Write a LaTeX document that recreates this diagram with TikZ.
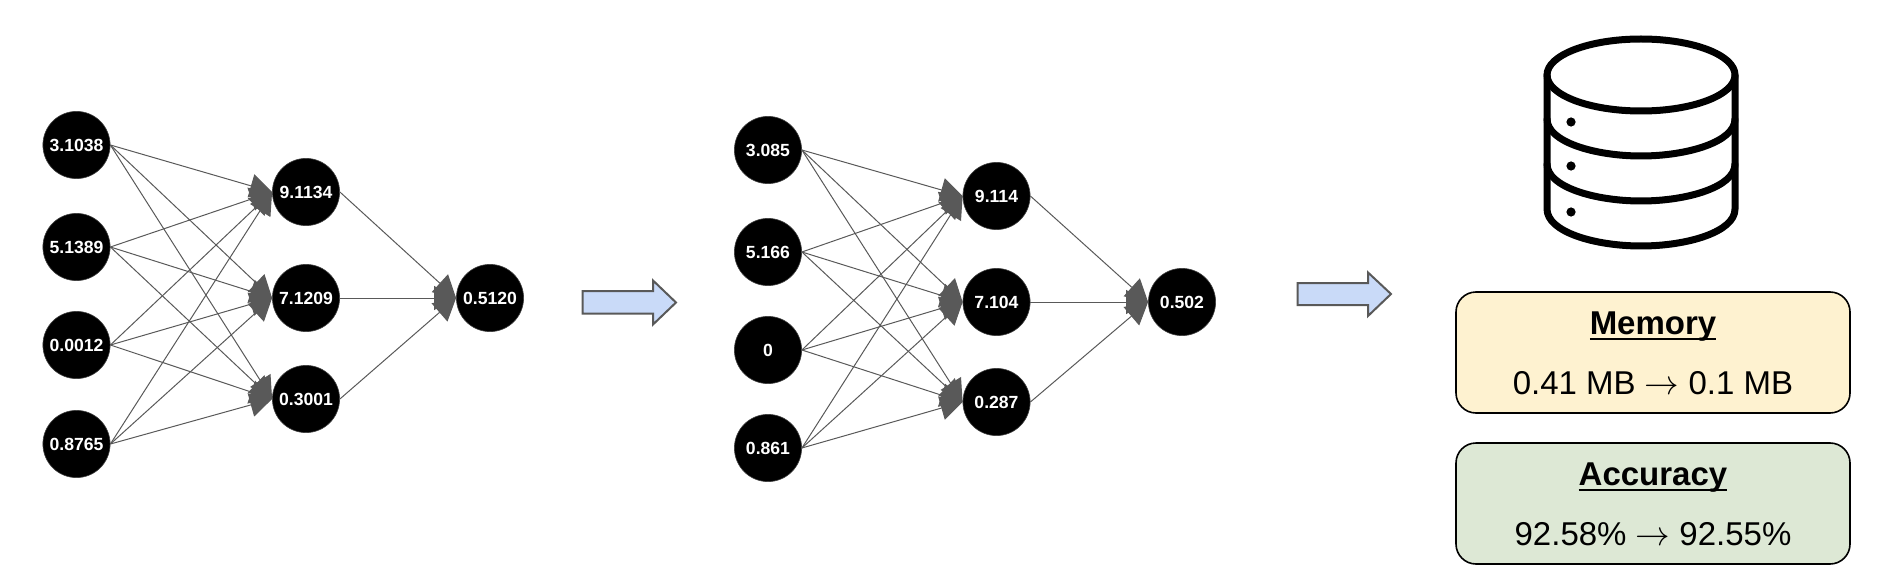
\documentclass[tikz,border=0pt]{standalone}
\usepackage{fontspec}
\setmainfont{Liberation Sans}
\usetikzlibrary{arrows.meta}
\definecolor{edgegray}{HTML}{595959}
\definecolor{arrowblue}{HTML}{C9DAF8}
\definecolor{memfill}{HTML}{FEF2D0}
\definecolor{accfill}{HTML}{DDE8D5}
\newlength{\ulwidth}
\newcommand{\thickul}[1]{\settowidth{\ulwidth}{#1}\leavevmode\rlap{\rule[-2.6pt]{\ulwidth}{1.1pt}}#1}
\tikzset{
  neuron/.style={circle,fill=black,draw=black!75,line width=0.3pt,minimum size=33.6pt,inner sep=0pt,text=white,font=\fontsize{8.8}{11}\selectfont\bfseries},
  edge/.style={draw=edgegray,line width=0.5pt,-{Triangle[length=11pt,width=12pt,fill=edgegray]}},
  bigarrow/.style={draw=edgegray,fill=arrowblue,line width=1pt,line join=miter},
  infobox/.style={draw=black,line width=0.8pt,rounded corners=10pt,minimum width=197pt,minimum height=60.5pt,inner sep=0pt},
  boxtitle/.style={font=\fontsize{16.5}{20}\selectfont\bfseries,inner sep=0pt},
  boxbody/.style={font=\fontsize{16.5}{20}\selectfont,inner sep=0pt},
  dbline/.style={draw=black,line width=3.5pt,line cap=round,line join=round},
}
\begin{document}
\begin{tikzpicture}[x=0.5pt,y=-0.5pt]
\useasboundingbox (0,0) rectangle (1878,588);
% first network
\node[neuron] (a1) at (76.5,145) {3.1038};
\node[neuron] (a2) at (76.5,247) {5.1389};
\node[neuron] (a3) at (76.5,345) {0.0012};
\node[neuron] (a4) at (76.5,444) {0.8765};
\node[neuron] (b1) at (306,192) {9.1134};
\node[neuron] (b2) at (306,298) {7.1209};
\node[neuron] (b3) at (306,399) {0.3001};
\node[neuron] (c1) at (490,298) {0.5120};
% second network
\node[neuron] (d1) at (768,150) {3.085};
\node[neuron] (d2) at (768,252) {5.166};
\node[neuron] (d3) at (768,350) {0};
\node[neuron] (d4) at (768,448) {0.861};
\node[neuron] (e1) at (996.5,196) {9.114};
\node[neuron] (e2) at (996.5,302) {7.104};
\node[neuron] (e3) at (996.5,402) {0.287};
\node[neuron] (f1) at (1182,302) {0.502};
% connectors
\foreach \s in {a1,a2,a3,a4}
  \foreach \t in {b1,b2,b3}
    \draw[edge] (\s.east) -- (\t.west);
\foreach \t in {b1,b2,b3}
  \draw[edge] (\t.east) -- (c1.west);
\foreach \s in {d1,d2,d3,d4}
  \foreach \t in {e1,e2,e3}
    \draw[edge] (\s.east) -- (\t.west);
\foreach \t in {e1,e2,e3}
  \draw[edge] (\t.east) -- (f1.west);
% block arrows
\draw[bigarrow] (582.5,291) -- (653,291) -- (653,280.5) -- (676,302.5) -- (653,324.5) -- (653,313.5) -- (582.5,313.5) -- cycle;
\draw[bigarrow] (1297.5,283) -- (1368,283) -- (1368,272.5) -- (1391,294) -- (1368,316) -- (1368,305) -- (1297.5,305) -- cycle;
% database icon
\draw[dbline] (1641,75) ellipse [x radius=94,y radius=36];
\draw[dbline] (1547,75) -- (1547,209) .. controls (1547,232) and (1595,246) .. (1641,246) .. controls (1687,246) and (1735,232) .. (1735,209) -- (1735,75);
\draw[dbline] (1547,119) .. controls (1547,142) and (1595,156) .. (1641,156) .. controls (1687,156) and (1735,142) .. (1735,119);
\draw[dbline] (1547,164) .. controls (1547,187) and (1595,201) .. (1641,201) .. controls (1687,201) and (1735,187) .. (1735,164);
\fill (1571,122) circle [radius=4.6];
\fill (1571,166) circle [radius=4.6];
\fill (1571,212) circle [radius=4.6];
% boxes
\node[infobox,fill=memfill] (mem) at (1653,352.5) {};
\node[infobox,fill=accfill] (acc) at (1653,503.5) {};
\node[boxtitle] (memt) at (1653,327) {\thickul{Memory}};
\node[boxbody] (memb) at (1653,383) {0.41 MB $\rightarrow$ 0.1 MB};
\node[boxtitle] (acct) at (1653,478) {\thickul{Accuracy}};
\node[boxbody] (accb) at (1653,534) {92.58\% $\rightarrow$ 92.55\%};
\end{tikzpicture}
\end{document}
